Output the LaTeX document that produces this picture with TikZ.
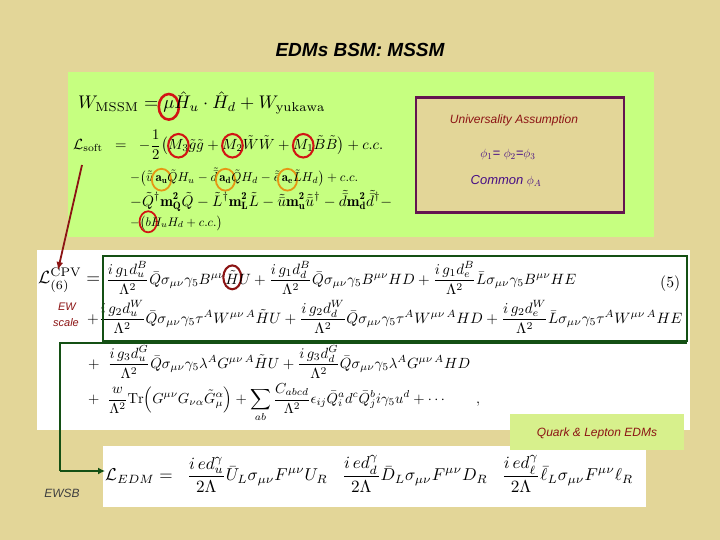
\documentclass[tikz,border=0pt]{standalone}
\usepackage{amsmath,amssymb,graphicx}
\usepackage{fontspec}
\setsansfont{Liberation Sans}
\usetikzlibrary{shapes.geometric,arrows.meta}
\definecolor{bg}{RGB}{227,214,152}
\definecolor{lg}{RGB}{198,255,128}
\definecolor{pur}{RGB}{100,20,80}
\definecolor{dg}{RGB}{20,80,20}
\definecolor{dr}{RGB}{140,20,20}
\definecolor{qbox}{RGB}{215,240,140}
\definecolor{rcol}{RGB}{210,20,20}
\definecolor{ocol}{RGB}{230,150,20}
\tikzset{eq/.style={anchor=west,inner sep=0pt},
 lbl/.style={font=\sffamily\itshape,inner sep=0pt}}
\newcommand{\fit}[2]{\resizebox{#1pt}{!}{$\displaystyle #2$}}
\newcommand{\ring}[3]{\mathord{\tikz[baseline=(q.base),x=1cm,y=1cm]{\node[inner sep=0pt](q){$#2$};\draw[overlay,#1,line width=1.4pt](q.center) ellipse (#3);}}}
\begin{document}
\begin{tikzpicture}[x=1pt,y=-1pt]
\fill[bg] (0,0) rectangle (720,540);
\useasboundingbox (0,0) rectangle (720,540);
\node[lbl,font=\sffamily\bfseries\itshape\fontsize{19}{22}\selectfont] (title) at (360,50) {EDMs BSM: MSSM};
% box 1
\fill[lg] (68,72) rectangle (654,237);
\node[eq] (w) at (78,103) {\fit{247}{W_{\mathrm{MSSM}} = \ring{rcol}{\mu}{0.55em and 0.7em}\hat H_u\cdot\hat H_d + W_{\mathrm{yukawa}}}};
\node[eq] (ls) at (73,145) {\fit{310}{\mathcal{L}_{\mathrm{soft}}\;\;=\;\; -\frac12\big(\ring{rcol}{M_3}{0.7em and 0.8em}\tilde g\tilde g + \ring{rcol}{M_2}{0.7em and 0.8em}\tilde W\tilde W + \ring{rcol}{M_1}{0.7em and 0.8em}\tilde B\tilde B\big) + c.c.}};
\node[eq] (l2) at (130,177) {\fit{228}{-\big(\tilde{\bar u}\,\ring{ocol}{\mathbf{a_u}}{0.75em and 0.85em}\tilde Q H_u - \tilde{\bar d}\,\ring{ocol}{\mathbf{a_d}}{0.75em and 0.85em}\tilde Q H_d - \tilde{\bar e}\,\ring{ocol}{\mathbf{a_e}}{0.75em and 0.85em}\tilde L H_d\big) + c.c.}};
\node[eq] (l3) at (130,201) {\fit{262}{-\tilde Q^\dagger\mathbf{m^2_Q}\tilde Q - \tilde L^\dagger\mathbf{m^2_L}\tilde L - \tilde{\bar u}\mathbf{m^2_{\bar u}}\tilde{\bar u}^\dagger - \tilde{\bar d}\mathbf{m^2_{\bar d}}\tilde{\bar d}^\dagger -}};
\node[eq] (l4) at (130,223) {\fit{92}{-\big(\ring{rcol}{b}{0.7em and 0.85em}H_u H_d + c.c.\big)}};
% purple box
\node[draw=pur,line width=2.5pt,fill=bg,minimum width=208pt,minimum height=115pt,inner sep=0pt] (ua) at (520,155) {};
\node[lbl,text=dr,font=\sffamily\itshape\fontsize{12}{14}\selectfont] (uat) at (514,120) {Universality Assumption};
\node[lbl,text=pur!70!blue,font=\sffamily\itshape\fontsize{13}{15}\selectfont] (phi) at (508,155) {$\phi_1$= $\phi_2$=$\phi_3$};
\node[lbl,text=pur!70!blue,font=\sffamily\itshape\fontsize{13}{15}\selectfont] (com) at (506,181) {Common $\phi_A$};
% box 2
\fill[white] (37,250) rectangle (690,430);
\node[eq] (lc) at (38,280) {\fit{62}{\mathcal{L}^{\mathrm{CPV}}_{(6)} =}};
\node[eq] (e1) at (106,278) {\fit{470}{\frac{i\,g_1 d_u^B}{\Lambda^2}\bar Q\sigma_{\mu\nu}\gamma_5 B^{\mu\nu}\ring{dr}{\tilde H}{0.6em and 0.8em} U + \frac{i\,g_1 d_d^B}{\Lambda^2}\bar Q\sigma_{\mu\nu}\gamma_5 B^{\mu\nu} H D + \frac{i\,g_1 d_e^B}{\Lambda^2}\bar L\sigma_{\mu\nu}\gamma_5 B^{\mu\nu} H E}};
\node[eq] (n5) at (660,284) {\fit{20}{(5)}};
\node[eq] (e2) at (87,317) {\fit{595}{+\frac{i\,g_2 d_u^W}{\Lambda^2}\bar Q\sigma_{\mu\nu}\gamma_5\tau^A W^{\mu\nu\,A}\tilde H U + \frac{i\,g_2 d_d^W}{\Lambda^2}\bar Q\sigma_{\mu\nu}\gamma_5\tau^A W^{\mu\nu\,A} H D + \frac{i\,g_2 d_e^W}{\Lambda^2}\bar L\sigma_{\mu\nu}\gamma_5\tau^A W^{\mu\nu\,A} H E}};
\node[eq] (e3) at (88,362) {\fit{382}{+\;\;\frac{i\,g_3 d_u^G}{\Lambda^2}\bar Q\sigma_{\mu\nu}\gamma_5\lambda^A G^{\mu\nu\,A}\tilde H U + \frac{i\,g_3 d_d^G}{\Lambda^2}\bar Q\sigma_{\mu\nu}\gamma_5\lambda^A G^{\mu\nu\,A} H D}};
\node[eq] (e4) at (88,403) {\fit{392}{+\;\;\frac{w}{\Lambda^2}\mathrm{Tr}\Big(G^{\mu\nu}G_{\nu\alpha}\tilde G^\alpha_\mu\Big) + \sum_{ab}\frac{C_{abcd}}{\Lambda^2}\epsilon_{ij}\bar Q^a_i d^c\bar Q^b_j i\gamma_5 u^d + \cdots\qquad ,}};
\node[lbl,text=dr,font=\sffamily\itshape\fontsize{11}{13}\selectfont] (ew) at (67,307) {EW};
\node[lbl,text=dr,font=\sffamily\itshape\fontsize{11}{13}\selectfont] (sc) at (66,323) {scale};
% green frames
\draw[dg,line width=2.2pt] (103,256) rectangle (687,341);
\coordinate (t1) at (687,343);
\coordinate (t0) at (60,343);
\coordinate (bend) at (60,471);
% box 3
\fill[white] (103,446) rectangle (646,507);
\node[eq] (edm) at (105,474) {\fit{528}{\mathcal{L}_{EDM} = \;\;\frac{i\,e d_u^\gamma}{2\Lambda}\bar U_L\sigma_{\mu\nu}F^{\mu\nu}U_R \;\;\;\frac{i\,e d_d^\gamma}{2\Lambda}\bar D_L\sigma_{\mu\nu}F^{\mu\nu}D_R \;\;\;\frac{i\,e d_\ell^\gamma}{2\Lambda}\bar\ell_L\sigma_{\mu\nu}F^{\mu\nu}\ell_R}};
\draw[dg,line width=2.2pt] (t1) -- (t0) -- (bend);
\draw[dg,line width=2.2pt,-{Latex[length=7pt,width=7pt]}] (bend) -- (edm.west |- bend);
\node[fill=qbox,minimum width=174pt,minimum height=36pt,inner sep=0pt] (qb) at (597,432) {};
\node[lbl,text=dr,font=\sffamily\itshape\fontsize{12}{14}\selectfont] (qt) at (597,433) {Quark \& Lepton EDMs};
\node[lbl,text=black!75,font=\sffamily\itshape\fontsize{12}{14}\selectfont] (ewsb) at (62,493) {EWSB};
% red arrow
\coordinate (ra) at (82,165);
\coordinate (rb) at (58,270);
\draw[dr,line width=1.8pt,-{Latex[length=8pt,width=7pt]}] (ra) -- (rb);
\end{tikzpicture}
\end{document}
